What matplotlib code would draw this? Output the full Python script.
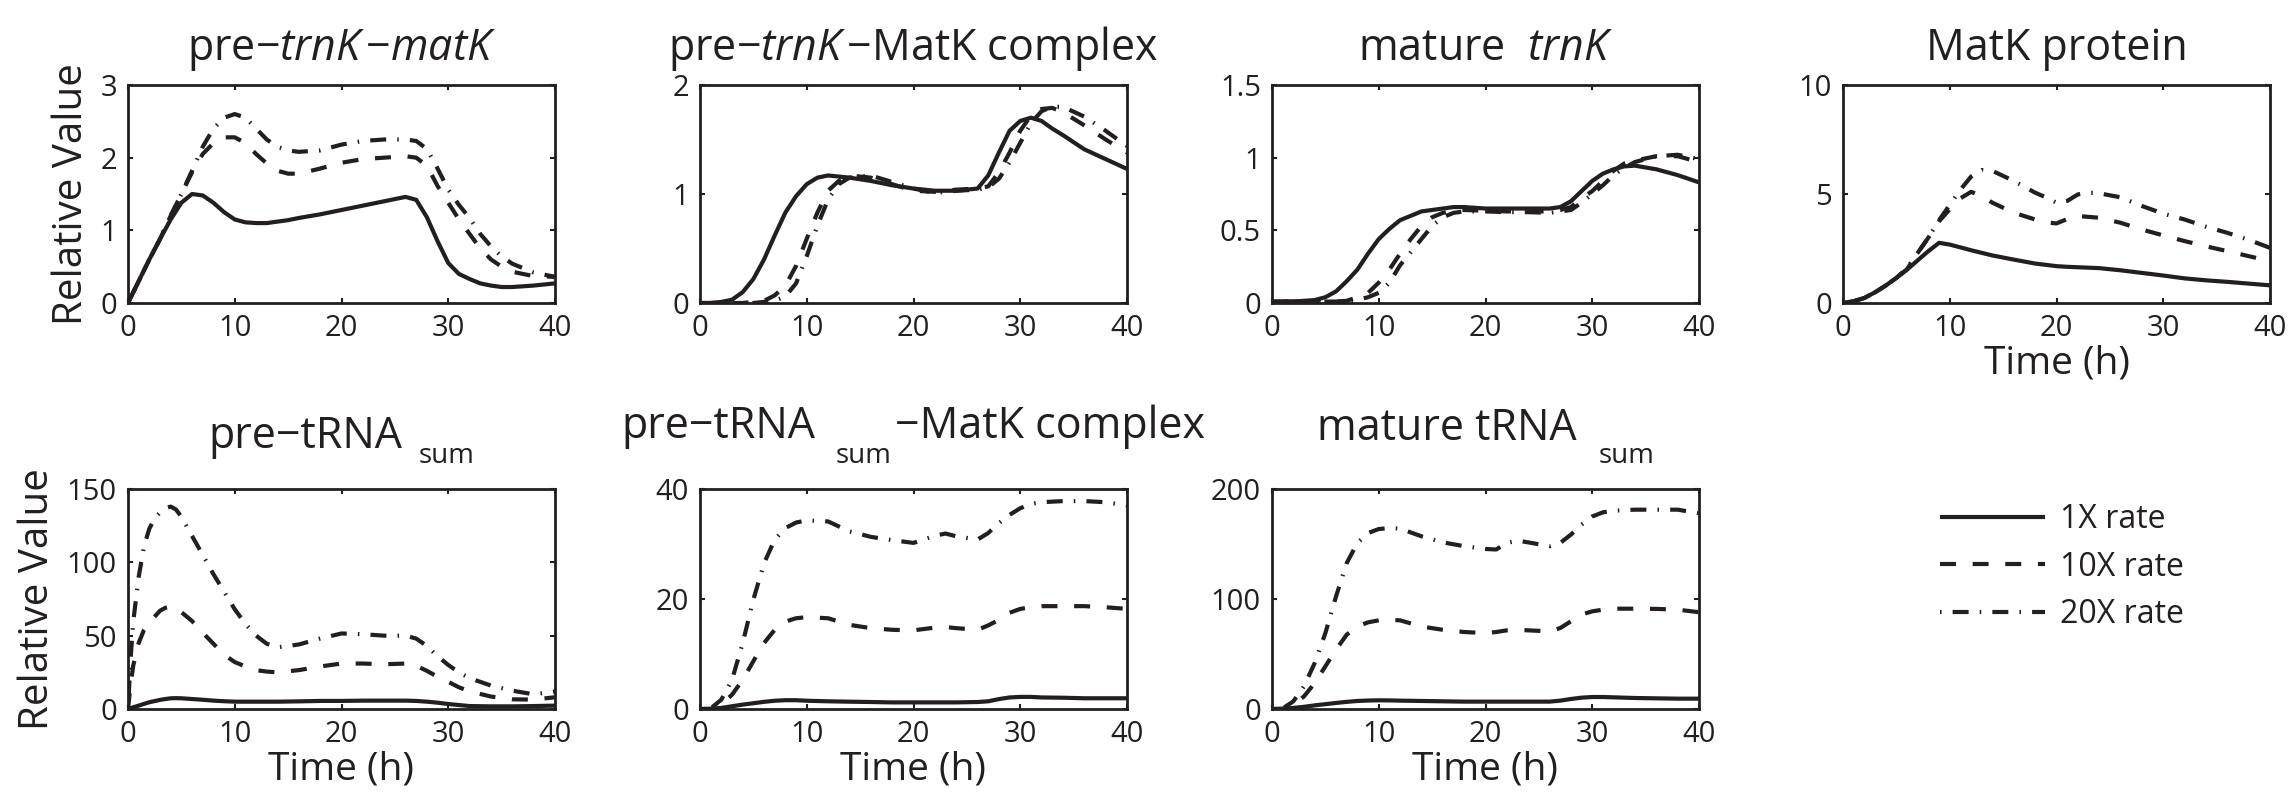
import matplotlib
matplotlib.use('Agg')
import matplotlib.pyplot as plt
from matplotlib.ticker import FormatStrFormatter

plt.rcParams['font.family'] = ['Open Sans', 'DejaVu Sans']
plt.rcParams['mathtext.fontset'] = 'custom'
plt.rcParams['mathtext.rm'] = 'Open Sans'
plt.rcParams['mathtext.it'] = 'Open Sans:italic'
plt.rcParams['lines.scale_dashes'] = False

INK = '#231f20'
W, H = 2292, 795

rates = ['1X rate', '10X rate', '20X rate']

# pre-trnK-matK
t1 = [0, 1, 2, 3, 4, 5, 6, 7, 8, 9, 10, 11, 12, 13, 14, 15, 16, 18, 20, 22, 24, 26, 27, 28, 29, 30, 31, 32, 33, 34, 35, 36, 38, 40]
p1_1x = [0, .3, .6, .88, 1.15, 1.38, 1.5, 1.48, 1.38, 1.25, 1.15, 1.11, 1.1, 1.1, 1.12, 1.14, 1.17, 1.22, 1.28, 1.34, 1.4, 1.46, 1.42, 1.18, .85, .55, .4, .33, .27, .24, .22, .22, .24, .27]
p1_10x = [0, .3, .6, .88, 1.2, 1.5, 1.8, 2.05, 2.2, 2.28, 2.28, 2.2, 2.05, 1.92, 1.82, 1.78, 1.78, 1.85, 1.93, 1.98, 2.0, 2.02, 2.0, 1.89, 1.61, 1.38, 1.15, .95, .75, .6, .5, .43, .37, .36]
p1_20x = [0, .3, .6, .88, 1.2, 1.5, 1.82, 2.15, 2.4, 2.55, 2.6, 2.55, 2.4, 2.25, 2.15, 2.1, 2.08, 2.1, 2.18, 2.23, 2.25, 2.25, 2.23, 2.12, 1.85, 1.56, 1.35, 1.17, .95, .78, .64, .54, .42, .36]

# pre-trnK-MatK complex
t2 = [0, 1, 2, 3, 4, 5, 6, 7, 8, 9, 10, 11, 12, 13, 14, 16, 18, 20, 22, 24, 26, 27, 28, 29, 30, 31, 32, 33, 34, 36, 38, 40]
p2_1x = [0, 0, .01, .03, .1, .22, .4, .62, .83, .98, 1.09, 1.15, 1.17, 1.16, 1.15, 1.12, 1.08, 1.05, 1.03, 1.03, 1.05, 1.17, 1.38, 1.58, 1.67, 1.7, 1.67, 1.6, 1.54, 1.41, 1.32, 1.23]
p2_10x = [0, 0, 0, 0, 0, .01, .02, .07, .16, .34, .59, .83, 1.03, 1.12, 1.17, 1.15, 1.09, 1.03, 1.02, 1.04, 1.05, 1.07, 1.2, 1.38, 1.58, 1.72, 1.78, 1.79, 1.75, 1.63, 1.5, 1.38]
p2_20x = [0, 0, 0, 0, 0, 0, .01, .02, .06, .18, .43, .71, .95, 1.09, 1.15, 1.17, 1.11, 1.05, 1.01, 1.03, 1.04, 1.06, 1.14, 1.29, 1.47, 1.65, 1.76, 1.8, 1.8, 1.71, 1.58, 1.44]

# mature trnK
t3 = [0, 2, 4, 5, 6, 7, 8, 9, 10, 11, 12, 13, 14, 15, 16, 17, 18, 20, 22, 24, 26, 27, 28, 29, 30, 31, 32, 33, 34, 36, 38, 40]
p3_1x = [.01, .01, .02, .04, .08, .15, .23, .34, .44, .51, .57, .6, .63, .64, .65, .66, .66, .65, .65, .65, .65, .66, .7, .77, .84, .89, .92, .94, .945, .92, .88, .83]
p3_10x = [.01, .01, .01, .01, .01, .015, .04, .07, .14, .23, .34, .44, .53, .59, .62, .635, .64, .635, .63, .63, .63, .64, .66, .72, .77, .84, .91, .96, .98, 1.01, 1.01, .97]
p3_20x = [.01, .01, .01, .01, .01, .01, .02, .04, .07, .14, .26, .35, .44, .53, .59, .62, .63, .63, .625, .625, .62, .63, .64, .69, .75, .81, .88, .93, .97, 1.01, 1.02, .99]

# MatK protein
t4 = [0, 1, 2, 3, 4, 5, 6, 7, 8, 9, 10, 11, 12, 13, 14, 16, 18, 19, 20, 21, 22, 23, 24, 26, 28, 30, 32, 34, 36, 38, 40]
p4_1x = [0, .08, .23, .49, .8, 1.15, 1.53, 1.96, 2.38, 2.76, 2.68, 2.55, 2.42, 2.3, 2.18, 1.99, 1.81, 1.75, 1.69, 1.66, 1.64, 1.62, 1.6, 1.5, 1.38, 1.26, 1.13, 1.04, .97, .89, .81]
p4_10x = [0, .08, .23, .49, .8, 1.15, 1.55, 2.3, 3.0, 3.75, 4.3, 4.8, 5.1, 4.9, 4.6, 4.14, 3.83, 3.7, 3.65, 3.85, 3.99, 3.95, 3.91, 3.68, 3.37, 3.1, 2.84, 2.6, 2.38, 2.15, 1.92]
p4_20x = [0, .08, .23, .49, .8, 1.15, 1.6, 2.3, 3.0, 3.8, 4.5, 5.2, 5.8, 6.1, 6.06, 5.6, 5.06, 4.85, 4.6, 4.68, 4.98, 5.06, 5.03, 4.85, 4.45, 4.1, 3.83, 3.5, 3.22, 2.9, 2.53]

# pre-tRNA sum
t5 = [0, .25, .5, 1, 1.5, 2, 2.5, 3, 3.5, 4, 4.5, 5, 6, 7, 8, 9, 10, 11, 12, 13, 14, 16, 18, 20, 22, 24, 26, 27, 28, 29, 30, 31, 32, 34, 36, 38, 40]
p5_1x = [0, .6, 1.2, 2.3, 3.5, 4.6, 5.4, 6.2, 6.8, 7.3, 7.4, 7.3, 6.8, 6.3, 5.7, 5.3, 5.0, 5.0, 5.0, 5.0, 5.0, 5.2, 5.5, 5.5, 5.7, 5.7, 5.7, 5.5, 5.0, 4.3, 3.4, 2.7, 2.0, 1.8, 1.8, 2.0, 2.3]
p5_10x = [0, 17, 30, 45, 54, 59, 63, 67, 69, 70, 68, 66, 60, 52, 44.5, 37, 32, 29, 26.5, 25.5, 25, 26.5, 29, 31, 31, 30.5, 31, 29.5, 26, 22, 18.5, 14.8, 12, 8.5, 6.6, 6.4, 8]
p5_20x = [0, 35, 60, 90, 111, 123, 130, 134, 137, 138, 136, 131, 118, 105, 92, 80, 68, 58, 50, 44.5, 42, 44, 48, 51.5, 51, 50, 50, 48, 43, 36, 30, 25, 21, 16, 12.5, 10, 12]

# pre-tRNA sum - MatK complex
t6 = [0, 1, 2, 3, 4, 5, 6, 7, 8, 9, 10, 12, 14, 16, 18, 20, 22, 23, 24, 26, 27, 28, 29, 30, 31, 32, 34, 36, 38, 40]
p6_1x = [0, .05, .2, .5, .8, 1.05, 1.3, 1.5, 1.6, 1.6, 1.5, 1.4, 1.33, 1.27, 1.2, 1.2, 1.2, 1.2, 1.2, 1.27, 1.4, 1.8, 2.1, 2.2, 2.2, 2.1, 2.05, 1.95, 1.95, 1.95]
p6_10x = [0, 0, .8, 2.6, 5.3, 8.7, 12, 14.4, 15.9, 16.5, 16.7, 16.5, 15.3, 14.7, 14.4, 14.3, 14.8, 14.9, 14.7, 14.4, 15.2, 16.2, 17.5, 18.2, 18.5, 18.7, 18.7, 18.7, 18.5, 18.2]
p6_20x = [0, .1, 1.7, 5.3, 12, 19.9, 26.5, 30.8, 32.9, 33.9, 34.3, 34.1, 32.3, 31.3, 30.7, 30.2, 31.5, 31.9, 31.4, 30.8, 32, 33.8, 35.3, 36.5, 37.3, 37.6, 37.8, 37.8, 37.6, 37]

# mature tRNA sum
t7 = [0, 1, 2, 3, 4, 5, 6, 7, 8, 9, 10, 11, 12, 14, 16, 18, 20, 21, 22, 23, 24, 26, 27, 28, 29, 30, 31, 32, 34, 36, 38, 40]
p7_1x = [0, .3, 1, 2, 3.3, 4.4, 5.5, 6.5, 7.3, 7.7, 7.9, 7.8, 7.6, 7.3, 7, 6.7, 6.7, 6.7, 6.7, 6.7, 6.7, 6.7, 7.6, 9.1, 10.3, 10.9, 10.9, 10.6, 10, 9.7, 9.4, 9.4]
p7_10x = [0, 0, 4, 11.5, 23.6, 38.8, 54, 67.6, 75, 78.8, 80.6, 81, 80.6, 75, 72, 70, 69, 70, 71.5, 72, 71.5, 70.6, 73.6, 79.7, 85.8, 88.8, 90.3, 91.2, 91.2, 91, 90.3, 88]
p7_20x = [0, .5, 7, 20.6, 41.8, 69, 102.4, 132.7, 151, 160, 163.6, 164.5, 164, 157, 151.5, 148, 145.5, 145, 151, 153, 151.5, 148, 151, 158.5, 167.6, 175, 178.8, 180.3, 181.2, 181.2, 181.2, 178]

line_styles = ['-', (0, (11.5, 12)), (0, (1.1, 8, 11.5, 8))]

fig = plt.figure(figsize=(W / 100, H / 100), dpi=100)
lefts = [128, 700, 1272, 1843]
aw = 427


def make_ax(col, top, bottom):
    return fig.add_axes([lefts[col] / W, 1 - bottom / H, aw / W, (bottom - top) / H])


def draw(ax, t, series, ymax, yticks):
    lines = []
    for y, ls in zip(series, line_styles):
        ln, = ax.plot(t, y, color=INK, lw=3, ls=ls, solid_capstyle='butt', dash_capstyle='butt')
        lines.append(ln)
    ax.set_xlim(0, 40)
    ax.set_ylim(0, ymax)
    ax.set_xticks([0, 10, 20, 30, 40])
    ax.set_yticks(yticks)
    ax.yaxis.set_major_formatter(FormatStrFormatter('%g'))
    ax.tick_params(direction='in', length=3.5, width=1.5, top=True, right=True,
                   labelsize=21, pad=8, color=INK, labelcolor=INK)
    for sp in ax.spines.values():
        sp.set_linewidth(2)
        sp.set_color(INK)
    return lines


ax1 = make_ax(0, 85, 303)
handles = draw(ax1, t1, [p1_1x, p1_10x, p1_20x], 3, [0, 1, 2, 3])
ax1.set_title('pre\u2212$\\mathit{trnK}\\,$\u2212$\\mathit{matK}$', fontsize=31, pad=18, color=INK)

ax2 = make_ax(1, 85, 303)
draw(ax2, t2, [p2_1x, p2_10x, p2_20x], 2, [0, 1, 2])
ax2.set_title('pre\u2212$\\mathit{trnK}\\,$\u2212MatK complex', fontsize=31, pad=18, color=INK)

ax3 = make_ax(2, 85, 303)
draw(ax3, t3, [p3_1x, p3_10x, p3_20x], 1.5, [0, 0.5, 1, 1.5])
ax3.set_title('mature  $\\mathit{trnK}$', fontsize=31, pad=18, color=INK)

ax4 = make_ax(3, 85, 303)
draw(ax4, t4, [p4_1x, p4_10x, p4_20x], 10, [0, 5, 10])
ax4.set_title('MatK protein', fontsize=31, pad=18, color=INK)

ax5 = make_ax(0, 489, 709)
draw(ax5, t5, [p5_1x, p5_10x, p5_20x], 150, [0, 50, 100, 150])

ax6 = make_ax(1, 489, 709)
draw(ax6, t6, [p6_1x, p6_10x, p6_20x], 40, [0, 20, 40])

ax7 = make_ax(2, 489, 709)
draw(ax7, t7, [p7_1x, p7_10x, p7_20x], 200, [0, 100, 200])

for ax in (ax1, ax5):
    ax.set_ylabel('Relative Value', fontsize=29, labelpad=6, color=INK)
for ax in (ax4, ax5, ax6, ax7):
    ax.set_xlabel('Time (h)', fontsize=28, labelpad=1, color=INK)


def piece_title(ax, pieces):
    # pieces: (text, fontsize, baseline px from top, gap px before)
    r = fig.canvas.get_renderer()
    objs = []
    for s, fs, base, gap in pieces:
        tx = fig.text(0, 1 - base / H, s, fontsize=fs, color=INK, ha='left', va='baseline')
        objs.append((tx, gap, tx.get_window_extent(r).width))
    total = sum(g + w for _, g, w in objs)
    bb = ax.get_position()
    x = (bb.x0 + bb.x1) / 2 * W - total / 2
    for tx, g, w in objs:
        x += g
        tx.set_x(x / W)
        x += w


piece_title(ax5, [('pre\u2212tRNA', 31, 448, 0), ('sum', 20, 463, 16)])
piece_title(ax6, [('pre\u2212tRNA', 31, 438, 0), ('sum', 20, 463, 20), ('\u2212MatK complex', 31, 438, 4)])
piece_title(ax7, [('mature tRNA', 31, 440, 0), ('sum', 20, 463, 22)])

fig.legend(handles, rates, loc='center left', bbox_to_anchor=(1940 / W, 1 - 567 / H),
           frameon=False, fontsize=23, handlelength=3.3, handletextpad=0.45,
           labelspacing=0.45, borderpad=0, borderaxespad=0, labelcolor=INK)

fig.savefig('out.png', dpi=100)
